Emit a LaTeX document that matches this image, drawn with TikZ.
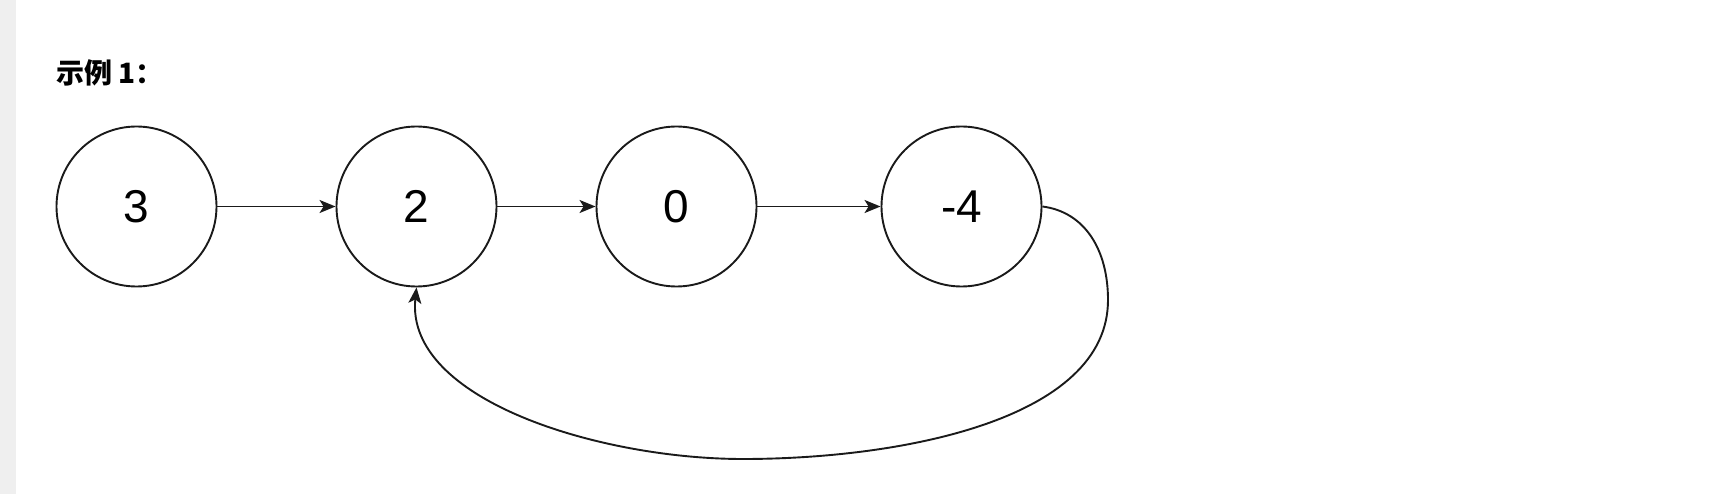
\documentclass[tikz,border=0pt]{standalone}
\usepackage{fontspec}
\setmainfont{Liberation Sans}
\newfontfamily\cjkfont{Noto Sans CJK SC}
\usetikzlibrary{arrows.meta}
\definecolor{barcol}{HTML}{EFEFEF}
\definecolor{linecol}{HTML}{1A1A1A}
\begin{document}
\begin{tikzpicture}[x=1pt,y=-1pt,
  listnode/.style={circle,draw=linecol,line width=1.9pt,minimum size=160pt,inner sep=0pt,font=\fontsize{46}{50}\selectfont},
  link/.style={draw=linecol,line width=1.9pt,-{Stealth[length=16pt,width=13pt,inset=4pt]}}]
\useasboundingbox (0,0) rectangle (1714,494);
\fill[white] (0,0) rectangle (1714,494);
\fill[barcol] (0,0) rectangle (16,494);
\node[anchor=west,inner sep=0pt,font=\cjkfont\bfseries\fontsize{28}{32}\selectfont] (title) at (56,73) {示例 1：};
\node[listnode] (n3) at (136.5,206.5) {3};
\node[listnode] (n2) at (416.5,206.5) {2};
\node[listnode] (n0) at (676.5,206.5) {0};
\node[listnode] (n4) at (961.5,206.5) {-4};
\draw[link] (n3) -- (n2);
\draw[link] (n2) -- (n0);
\draw[link] (n0) -- (n4);
\draw[link] (n4.east) .. controls (1085,212) and (1108,250) .. (1108,300)
  .. controls (1108,420) and (900,459) .. (743,459)
  .. controls (600,459) and (405,400) .. (n2.south);
\end{tikzpicture}
\end{document}
